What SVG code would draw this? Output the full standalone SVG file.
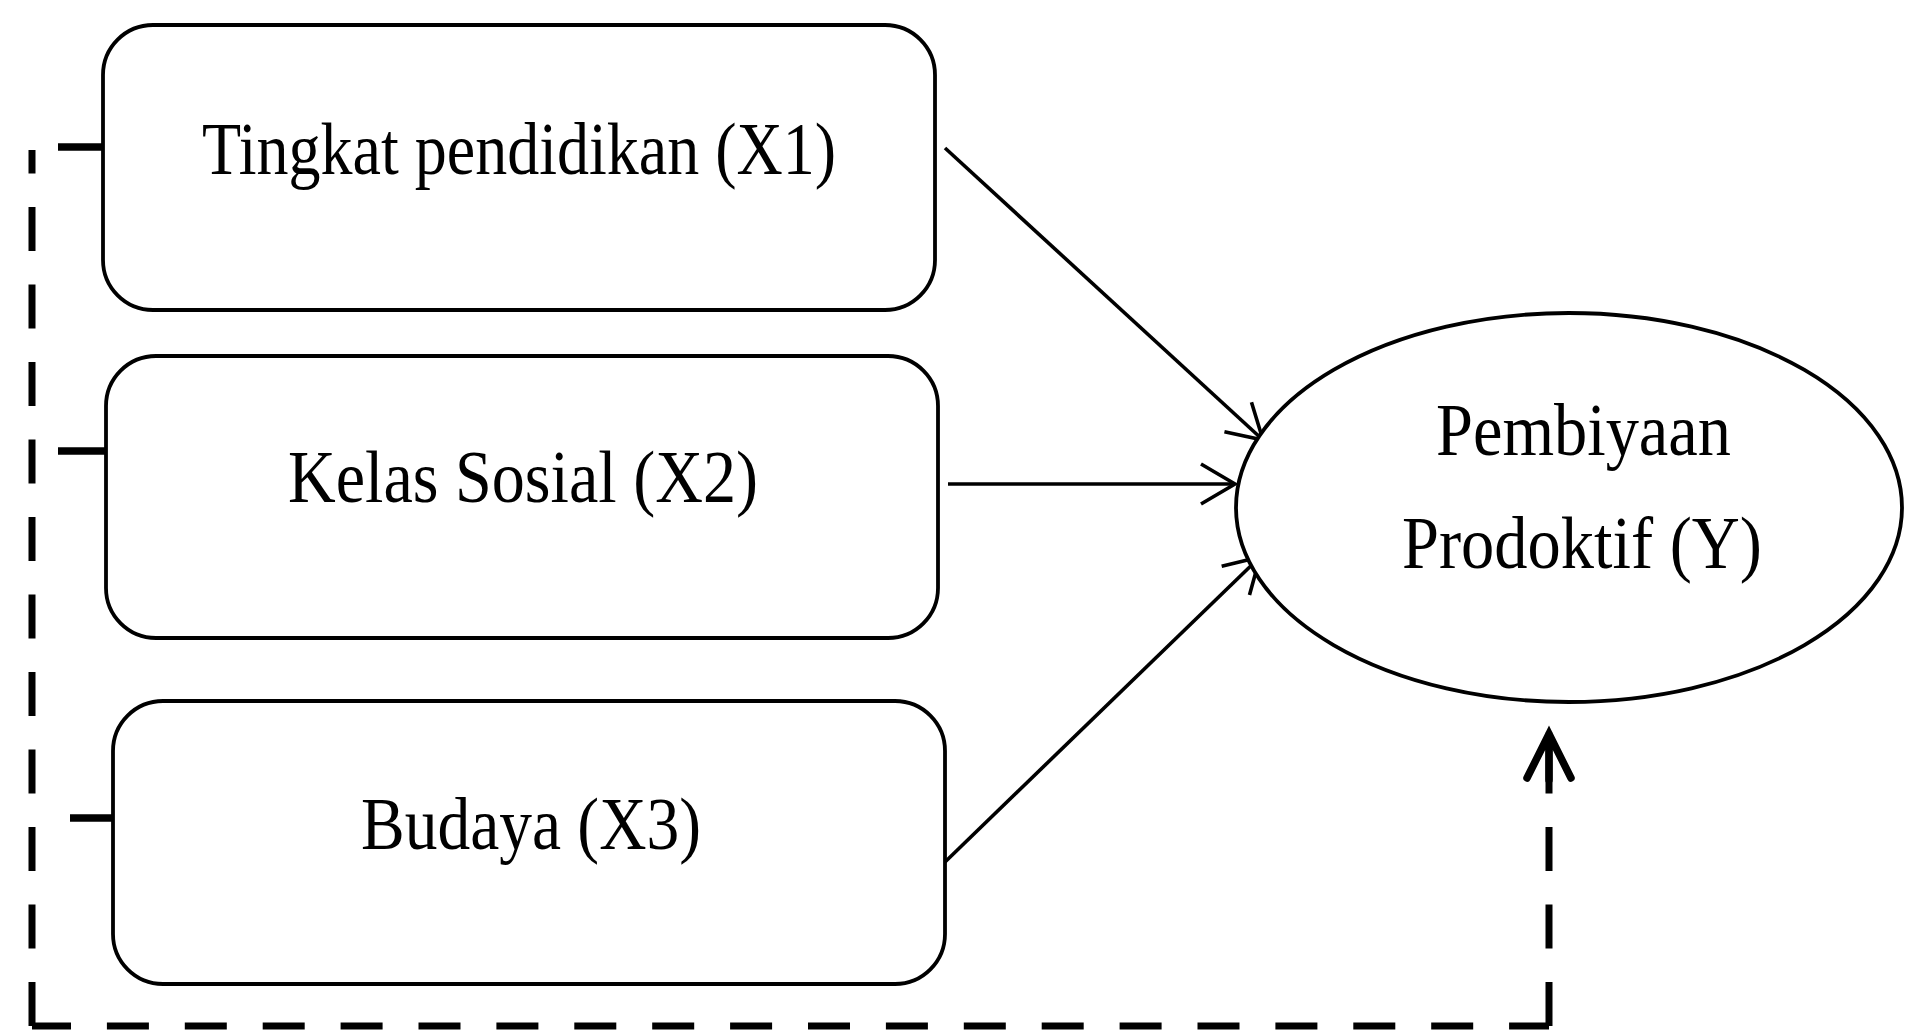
<svg xmlns="http://www.w3.org/2000/svg" width="1905" height="1031" viewBox="0 0 1905 1031">
<style>
.box{fill:#fff;stroke:#000;stroke-width:3.8}
.lbl{font-family:"Liberation Serif","Times New Roman",serif;font-size:73px;fill:#000}
.arr{fill:none;stroke:#000;stroke-width:3.6}
.dash{fill:none;stroke:#000;stroke-width:7}
.tick{stroke:#000;stroke-width:7.5}
</style>
<defs>
<marker id="open" markerUnits="userSpaceOnUse" markerWidth="60" markerHeight="60" viewBox="-50 -30 60 60" refX="0" refY="0" orient="auto" overflow="visible">
<path d="M-34,-20 L0,0 L-34,20" fill="none" stroke="#000" stroke-width="3.6"/>
</marker>
<marker id="bold" markerUnits="userSpaceOnUse" markerWidth="80" markerHeight="80" viewBox="-60 -40 80 80" refX="0" refY="0" orient="auto" overflow="visible">
<path d="M-44,-22 L0,0 L-44,22 M0,0 L-46,0" fill="none" stroke="#000" stroke-width="7.5" stroke-linejoin="miter" stroke-linecap="round"/>
</marker>
</defs>
<rect width="1905" height="1031" fill="#fff"/>
<g id="connectors">
<line class="arr" x1="945" y1="148" x2="1263" y2="440" marker-end="url(#open)"/>
<line class="arr" x1="948" y1="484" x2="1235" y2="484" stroke-width="4" marker-end="url(#open)"/>
<line class="arr" x1="945" y1="862" x2="1260" y2="557" marker-end="url(#open)"/>
<path class="dash" d="M32 1026 V150" stroke-dasharray="44 33.5"/>
<path class="dash" d="M32 1026 H1549" stroke-dasharray="42 35.9" stroke-dashoffset="3"/>
<path class="dash" d="M1549 1026 V734" stroke-dasharray="44 33.5" marker-end="url(#bold)"/>
<line class="tick" x1="58" y1="147" x2="103" y2="147"/>
<line class="tick" x1="58" y1="451" x2="106" y2="451"/>
<line class="tick" x1="70" y1="818" x2="113" y2="818"/>
</g>
<g id="x1">
<rect class="box" x="103" y="25" width="832" height="285" rx="50" ry="50"/>
<text class="lbl" x="202" y="174" textLength="634" lengthAdjust="spacingAndGlyphs">Tingkat pendidikan (X1)</text>
</g>
<g id="x2">
<rect class="box" x="106" y="356" width="832" height="282" rx="50" ry="50"/>
<text class="lbl" x="288" y="502" textLength="470" lengthAdjust="spacingAndGlyphs">Kelas Sosial (X2)</text>
</g>
<g id="x3">
<rect class="box" x="113" y="701" width="832" height="283" rx="50" ry="50"/>
<text class="lbl" x="361" y="849" textLength="340" lengthAdjust="spacingAndGlyphs">Budaya (X3)</text>
</g>
<g id="y">
<ellipse class="box" cx="1569" cy="507.5" rx="333" ry="194.5"/>
<text class="lbl" x="1436" y="455" textLength="295" lengthAdjust="spacingAndGlyphs">Pembiyaan</text>
<text class="lbl" x="1402" y="568" textLength="360" lengthAdjust="spacingAndGlyphs">Prodoktif (Y)</text>
</g>
</svg>
